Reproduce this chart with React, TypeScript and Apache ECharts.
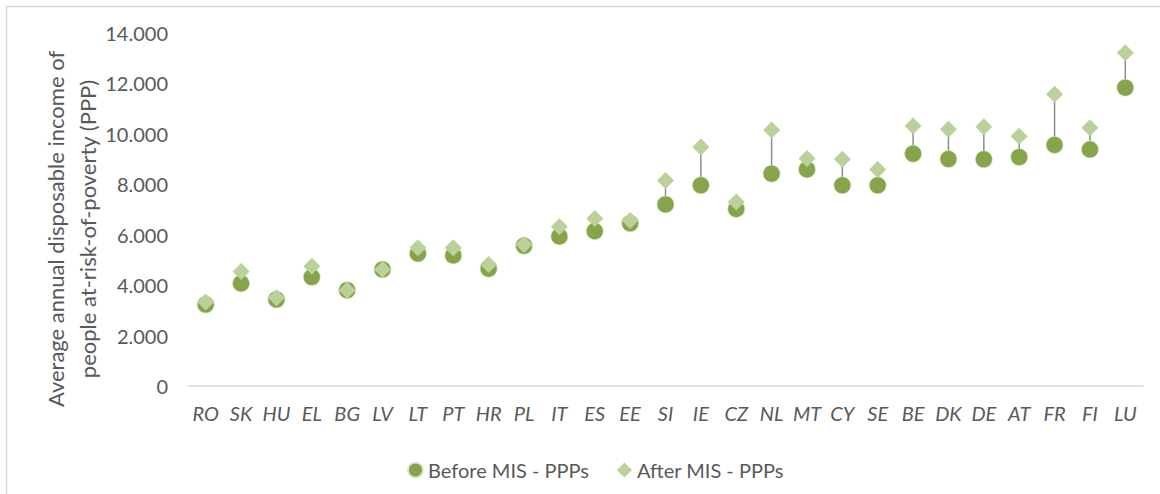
import React, { useEffect, useRef } from "react";
import * as echarts from "echarts";

const categories = ["RO","SK","HU","EL","BG","LV","LT","PT","HR","PL","IT","ES","EE","SI","IE","CZ","NL","MT","CY","SE","BE","DK","DE","AT","FR","FI","LU"];
const beforeMIS = [3230,4070,3430,4320,3800,4620,5250,5180,4650,5560,5930,6140,6450,7200,7960,7020,8420,8590,7960,7960,9210,9000,8990,9080,9560,9380,11830];
const afterMIS = [3330,4540,3500,4750,3800,4620,5480,5480,4820,5610,6320,6640,6560,8150,9480,7300,10150,9020,8990,8590,10310,10180,10280,9910,11570,10240,13220];
const yTicks = [0, 2000, 4000, 6000, 8000, 10000, 12000, 14000];

const seriesNames = ["Before MIS - PPPs", "After MIS - PPPs"];
const yAxisTitle = "Average annual disposable income of\npeople at-risk-of-poverty (PPP)";

const FONT = "Lato, 'Open Sans', sans-serif";
const TEXT_COLOR = "#595959";

function fmt(v: number): string {
  return String(Math.round(v)).replace(/\B(?=(\d{3})+(?!\d))/g, ".");
}

export default function App() {
  const ref = useRef<HTMLDivElement>(null);
  useEffect(() => {
    if (!ref.current) return;
    const chart = echarts.init(ref.current, null, { renderer: "svg" });
    const connectors = categories.map((_, i) => [i, beforeMIS[i], afterMIS[i]]);
    chart.setOption({
      animation: false,
      backgroundColor: "#ffffff",
      grid: { left: 188, right: 17, top: 33, bottom: 108, containLabel: false },
      legend: {
        data: [
          { name: seriesNames[0], icon: "circle" },
          { name: seriesNames[1], icon: "diamond" },
        ],
        left: 402,
        top: 455,
        itemWidth: 15,
        itemHeight: 15,
        itemGap: 28,
        textStyle: { fontFamily: FONT, fontSize: 20, color: TEXT_COLOR },
      },
      xAxis: {
        type: "category",
        data: categories,
        axisLine: { show: true, lineStyle: { color: "#d9d9d9", width: 1.5 } },
        axisTick: { show: false },
        axisLabel: {
          fontFamily: FONT,
          fontStyle: "italic",
          fontSize: 20,
          color: TEXT_COLOR,
          margin: 17,
          interval: 0,
        },
        splitLine: { show: false },
      },
      yAxis: {
        type: "value",
        min: yTicks[0],
        max: yTicks[yTicks.length - 1],
        interval: 2000,
        axisLine: { show: false },
        axisTick: { show: false },
        splitLine: { show: false },
        axisLabel: {
          fontFamily: FONT,
          fontSize: 20,
          color: TEXT_COLOR,
          margin: 20,
          formatter: (v: number) => fmt(v),
        },
      },
      graphic: [
        {
          type: "rect",
          shape: { x: 6.5, y: 6.5, width: 1200, height: 600 },
          style: { fill: "none", stroke: "#d9d9d9", lineWidth: 1.5 },
          silent: true,
          z: -10,
        },
        {
          type: "text",
          x: 71,
          y: 229,
          rotation: Math.PI / 2,
          style: {
            text: yAxisTitle,
            fontFamily: FONT,
            fontSize: 22,
            fill: TEXT_COLOR,
            textAlign: "center",
            textVerticalAlign: "middle",
            lineHeight: 32,
          },
        },
      ],
      series: [
        {
          type: "custom",
          name: "connector",
          data: connectors,
          z: 1,
          silent: true,
          renderItem: (params: any, api: any) => {
            const p1 = api.coord([api.value(0), api.value(1)]);
            const p2 = api.coord([api.value(0), api.value(2)]);
            return {
              type: "line",
              shape: { x1: p1[0], y1: p1[1], x2: p2[0], y2: p2[1] },
              style: { stroke: "#8c8c8c", lineWidth: 1.5 },
            };
          },
        },
        {
          type: "scatter",
          name: seriesNames[0],
          data: beforeMIS,
          symbol: "circle",
          symbolSize: 17,
          z: 2,
          itemStyle: { color: "#86A44A", borderColor: "#dfe8cf", borderWidth: 0.6, opacity: 1 },
        },
        {
          type: "scatter",
          name: seriesNames[1],
          data: afterMIS,
          symbol: "diamond",
          symbolSize: 17,
          z: 3,
          itemStyle: { color: "#BAD29A", opacity: 1 },
        },
      ],
    });
    return () => chart.dispose();
  }, []);
  return (
    <div
      ref={ref}
      style={{ position: "fixed", left: 0, top: 0, width: 1160, height: 494 }}
    />
  );
}
